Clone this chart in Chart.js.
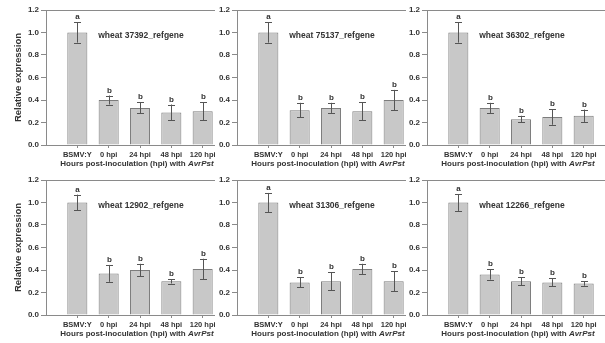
<!DOCTYPE html>
<html><head><meta charset="utf-8">
<script src="https://cdn.jsdelivr.net/npm/chart.js@4.4.1/dist/chart.umd.min.js"></script>
<style>
html,body{margin:0;padding:0;background:#fff;width:605px;height:343px;overflow:hidden;}
.p{position:absolute;background:#fff;}
canvas{display:block;background:#fff;}
</style></head><body>
<div class="p" style="left:0px;top:0px"><canvas id="c0"></canvas></div>
<div class="p" style="left:215px;top:0px"><canvas id="c1"></canvas></div>
<div class="p" style="left:406px;top:0px"><canvas id="c2"></canvas></div>
<div class="p" style="left:0px;top:170px"><canvas id="c3"></canvas></div>
<div class="p" style="left:215px;top:170px"><canvas id="c4"></canvas></div>
<div class="p" style="left:406px;top:170px"><canvas id="c5"></canvas></div>
<script>
// ---- data ----
const categories = ['BSMV:Y', '0 hpi', '24 hpi', '48 hpi', '120 hpi'];
const geneNames = ['wheat 37392_refgene', 'wheat 75137_refgene', 'wheat 36302_refgene',
                   'wheat 12902_refgene', 'wheat 31306_refgene', 'wheat 12266_refgene'];
const expr37392 = [1.00, 0.40, 0.33, 0.29, 0.30];
const err37392  = [0.09, 0.04, 0.05, 0.07, 0.08];
const expr75137 = [1.00, 0.31, 0.33, 0.30, 0.40];
const err75137  = [0.09, 0.065, 0.045, 0.08, 0.09];
const expr36302 = [1.00, 0.33, 0.23, 0.25, 0.26];
const err36302  = [0.09, 0.045, 0.03, 0.07, 0.055];
const expr12902 = [1.00, 0.37, 0.40, 0.30, 0.41];
const err12902  = [0.07, 0.075, 0.055, 0.02, 0.09];
const expr31306 = [1.00, 0.29, 0.30, 0.41, 0.30];
const err31306  = [0.085, 0.045, 0.08, 0.045, 0.09];
const expr12266 = [1.00, 0.36, 0.30, 0.29, 0.28];
const err12266  = [0.075, 0.045, 0.035, 0.035, 0.02];
const groupLetters = ['a', 'b', 'b', 'b', 'b'];
const yTickValues = [0.0, 0.2, 0.4, 0.6, 0.8, 1.0, 1.2];
const yAxisTitle = 'Relative expression';
const xTitleMain = 'Hours post-inoculation (hpi) with ';
const xTitleItalic = 'AvrPst';

// ---- styling ----
const FONT = '"Liberation Sans", Arial, sans-serif';
const TXT = '#333333';
const AXIS = '#8a8a8a';

const annot = {
  id: 'annot',
  afterDatasetsDraw(chart, args, o) {
    const {ctx, chartArea: a, scales: {y}} = chart;
    const meta = chart.getDatasetMeta(0);
    ctx.save();
    meta.data.forEach((bar, i) => {
      const v = o.values[i], e = o.errors[i];
      const yt = y.getPixelForValue(v + e), yb = y.getPixelForValue(v - e);
      const x = Math.round(bar.x) + 0.5;
      ctx.strokeStyle = '#555555'; ctx.lineWidth = 1;
      ctx.beginPath();
      ctx.moveTo(x, yt); ctx.lineTo(x, yb);
      ctx.moveTo(x - 3.5, Math.round(yt) + 0.5); ctx.lineTo(x + 3.5, Math.round(yt) + 0.5);
      ctx.moveTo(x - 3.5, Math.round(yb) + 0.5); ctx.lineTo(x + 3.5, Math.round(yb) + 0.5);
      ctx.stroke();
      ctx.fillStyle = TXT;
      ctx.font = 'bold 8px ' + FONT;
      ctx.textAlign = 'center'; ctx.textBaseline = 'alphabetic';
      ctx.fillText(o.letters[i], x, yt - 3);
    });
    const cx = (a.left + a.right) / 2;
    ctx.fillStyle = TXT;
    ctx.font = 'bold 8.5px ' + FONT;
    ctx.textAlign = 'center'; ctx.textBaseline = 'middle';
    ctx.fillText(o.gene, cx + 1, a.top + 26);
    // x axis title with italic part
    const f1 = 'bold 8px ' + FONT, f2 = 'italic bold 8px ' + FONT;
    ctx.font = f1; const w1 = ctx.measureText(xTitleMain).width;
    ctx.font = f2; const w2 = ctx.measureText(xTitleItalic).width;
    let sx = cx - 3 - (w1 + w2) / 2;
    const ty = a.bottom + 18.5;
    ctx.textAlign = 'left';
    ctx.font = f1; ctx.fillText(xTitleMain, sx, ty);
    ctx.font = f2; ctx.fillText(xTitleItalic, sx + w1, ty);
    ctx.restore();
  }
};

function makePanel(id, gene, values, errors, yW, showTitle, padBottom, height) {
  const cv = document.getElementById(id);
  const w = yW + 188;
  cv.width = w; cv.height = height;
  cv.style.width = w + 'px'; cv.style.height = height + 'px';
  new Chart(cv, {
    type: 'bar',
    data: {
      datasets: [{
        data: values.map((v, i) => ({x: i, y: v})),
        backgroundColor: '#c8c8c8',
        borderColor: '#7c7c7c',
        borderWidth: 1,
        categoryPercentage: 0.8,
        barPercentage: 0.8
      }]
    },
    options: {
      responsive: false,
      animation: false,
      devicePixelRatio: 1,
      layout: {padding: {top: 10, right: 0, bottom: padBottom, left: 0}},
      plugins: {
        legend: {display: false}, tooltip: {enabled: false}, title: {display: false},
        annot: {values, errors, letters: groupLetters, gene}
      },
      scales: {
        x: {
          type: 'linear', position: 'bottom', min: -1, max: 5, offset: false,
          afterBuildTicks: s => { s.ticks = categories.map((c, i) => ({value: i})); },
          afterFit: s => { s.height = 25; },
          ticks: {
            callback: v => categories[v],
            font: {family: FONT, size: 7.5, weight: 'bold'}, color: TXT,
            padding: 2, maxRotation: 0, autoSkip: false
          },
          grid: {drawOnChartArea: false, drawTicks: true, tickLength: 3, color: AXIS, offset: false},
          border: {display: true, color: AXIS, width: 1}
        },
        x2: {
          type: 'linear', position: 'top', axis: 'x', offset: false,
          afterFit: s => { s.height = 0; },
          ticks: {display: false},
          grid: {display: false},
          border: {display: true, color: AXIS, width: 1}
        },
        y: {
          min: 0, max: 1.2,
          afterBuildTicks: s => { s.ticks = yTickValues.map(v => ({value: v})); },
          afterFit: s => { s.width = yW; },
          ticks: {
            callback: v => v.toFixed(1),
            font: {family: FONT, size: 8, weight: 'bold'}, color: TXT, padding: 2
          },
          grid: {drawOnChartArea: false, drawTicks: true, tickLength: 5, color: AXIS},
          border: {display: true, color: AXIS, width: 1},
          title: {
            display: showTitle, text: yAxisTitle, color: TXT,
            font: {family: FONT, size: 9.5, weight: 'bold'},
            padding: {top: 13, bottom: 0}
          }
        }
      }
    },
    plugins: [annot]
  });
}

makePanel('c0', geneNames[0], expr37392, err37392, 46, true, 0, 170);
makePanel('c1', geneNames[1], expr75137, err75137, 22, false, 0, 170);
makePanel('c2', geneNames[2], expr36302, err36302, 21, false, 0, 170);
makePanel('c3', geneNames[3], expr12902, err12902, 46, true, 3, 173);
makePanel('c4', geneNames[4], expr31306, err31306, 22, false, 3, 173);
makePanel('c5', geneNames[5], expr12266, err12266, 21, false, 3, 173);
</script>
</body></html>
